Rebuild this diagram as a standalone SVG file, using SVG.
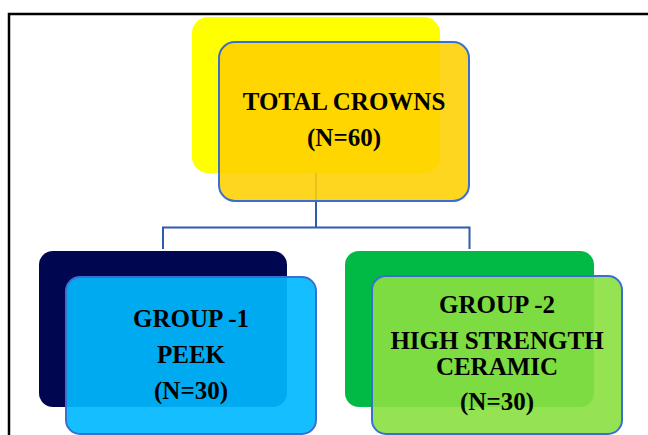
<svg xmlns="http://www.w3.org/2000/svg" width="648" height="435" viewBox="0 0 648 435">
<style>
.t{font-family:"Liberation Serif","Times New Roman",serif;font-weight:bold;font-size:25px;fill:#000;text-anchor:middle}
.front{stroke:#3A6FD0;stroke-width:2}
.conn{fill:none;stroke:#2F5BAE;stroke-width:2}
</style>
<rect x="0" y="0" width="648" height="435" fill="#fff"/>
<rect x="9" y="14" width="700" height="500" fill="none" stroke="#000" stroke-width="2.5"/>
<g id="connectors">
<path class="conn" d="M316 173 V227.5 M163 249 V227.5 H469.5 V249"/>
</g>
<g id="node-total">
<rect x="192" y="17" width="248" height="156" rx="16" fill="#FFFF00"/>
<rect class="front" x="219" y="42" width="250" height="159" rx="16" fill="#FFD000" fill-opacity="0.88"/>
<text class="t" x="344" y="110">TOTAL CROWNS</text>
<text class="t" x="344" y="146">(N=60)</text>
</g>
<g id="node-group1">
<rect x="39" y="251" width="248" height="156" rx="14" fill="#000650"/>
<rect class="front" x="66" y="277" width="250" height="157" rx="14" fill="#00B8FF" fill-opacity="0.92"/>
<text class="t" x="191" y="327">GROUP -1</text>
<text class="t" x="191" y="363">PEEK</text>
<text class="t" x="191" y="399">(N=30)</text>
</g>
<g id="node-group2">
<rect x="345" y="251" width="249" height="156" rx="14" fill="#00BA45"/>
<rect class="front" x="372" y="276" width="250" height="158" rx="14" fill="#8AE040" fill-opacity="0.9"/>
<text class="t" x="497" y="313">GROUP -2</text>
<text class="t" x="497" y="349">HIGH STRENGTH</text>
<text class="t" x="497" y="375">CERAMIC</text>
<text class="t" x="497" y="410">(N=30)</text>
</g>
</svg>
